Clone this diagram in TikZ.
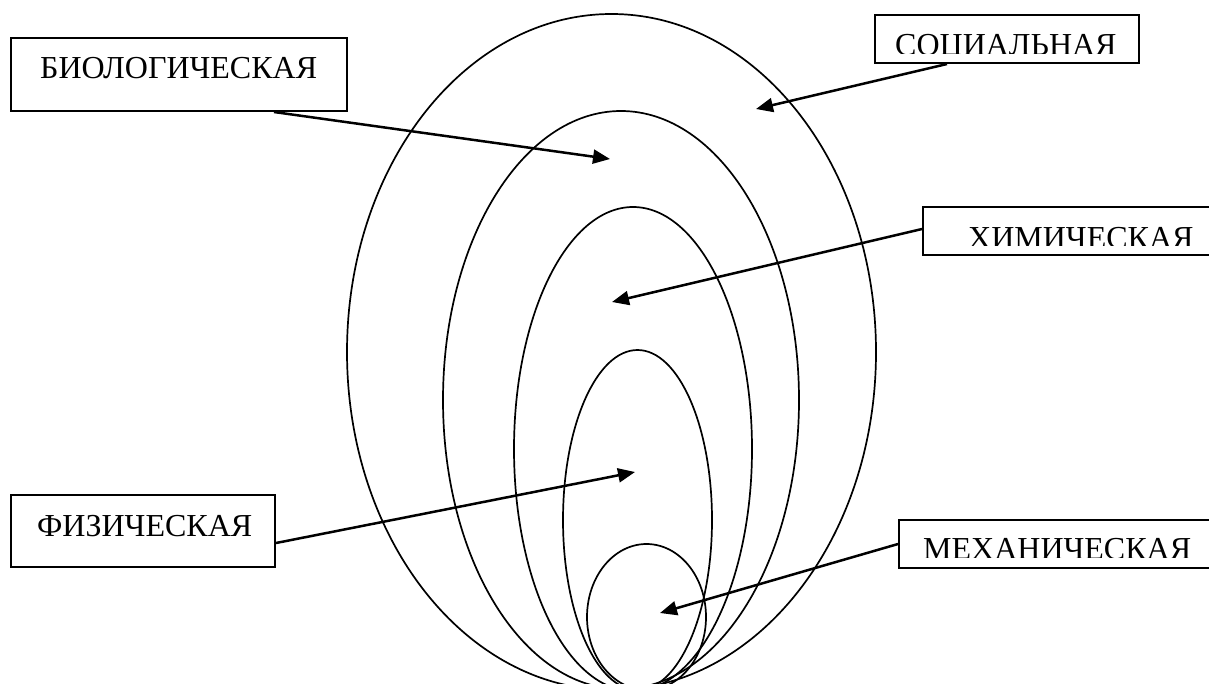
\documentclass[tikz,border=0pt]{standalone}
\usepackage{fontspec}
\setmainfont{Liberation Serif}
\usetikzlibrary{arrows.meta}
\begin{document}
\begin{tikzpicture}[x=1pt,y=-1pt,
  oval/.style={line width=1.7pt},
  lbox/.style={draw,line width=2pt,rectangle,inner sep=0pt},
  lbl/.style={anchor=base west,inner sep=0pt,font=\fontsize{32}{38}\selectfont},
  arr/.style={line width=2.5pt,-{Triangle[length=17pt,width=14pt]}}]
\useasboundingbox (0,0) rectangle (1209,683);
% ovals
\draw[oval] (611.5,352) ellipse (264.5 and 338);
\draw[oval] (621,400) ellipse (178 and 289);
\draw[oval] (633,449) ellipse (119 and 242);
\draw[oval] (637.5,520) ellipse (74.5 and 170);
\draw[oval] (646.5,617) ellipse (59.5 and 73);
% target points
\coordinate (tb) at (610,159);
\coordinate (ts) at (756,109);
\coordinate (tc) at (612,302);
\coordinate (tp) at (635,472);
\coordinate (tm) at (660,613);
% boxes
\node[lbox,minimum width=336pt,minimum height=73pt] (bio) at (179,74.5) {};
\node[lbl] (biot) at (40,78) {БИОЛОГИЧЕСКАЯ};
\node[lbox,minimum width=264pt,minimum height=48pt] (soc) at (1007,39) {};
\begin{scope}\clip (876,16) rectangle (1138,53);
\node[lbl] (soct) at (895,55) {СОЦИАЛЬНАЯ};\end{scope}
\node[lbox,minimum width=292pt,minimum height=48pt] (chem) at (1069,231) {};
\begin{scope}\clip (924,208) rectangle (1209,245);
\node[lbl] (chemt) at (968,248) {ХИМИЧЕСКАЯ};\end{scope}
\node[lbox,minimum width=264pt,minimum height=72pt] (phys) at (143,531) {};
\node[lbl] (physt) at (37,536) {ФИЗИЧЕСКАЯ};
\node[lbox,minimum width=316pt,minimum height=48pt] (mech) at (1057,544) {};
\begin{scope}\clip (900,521) rectangle (1209,557);
\node[lbl] (mecht) at (923,559) {МЕХАНИЧЕСКАЯ};\end{scope}
% arrows
\draw[arr] (bio.south west)++(264,0) coordinate (sb) (sb) -- (tb);
\draw[arr] (soc.south west)++(73,0) coordinate (ss) (ss) -- (ts);
\draw[arr] (chem.north west)++(0,23) coordinate (sc) (sc) -- (tc);
\draw[arr] (phys.south east)++(0,-25) coordinate (sp) (sp) -- (tp);
\draw[arr] (mech.north west)++(0,25) coordinate (sm) (sm) -- (tm);
\end{tikzpicture}
\end{document}
